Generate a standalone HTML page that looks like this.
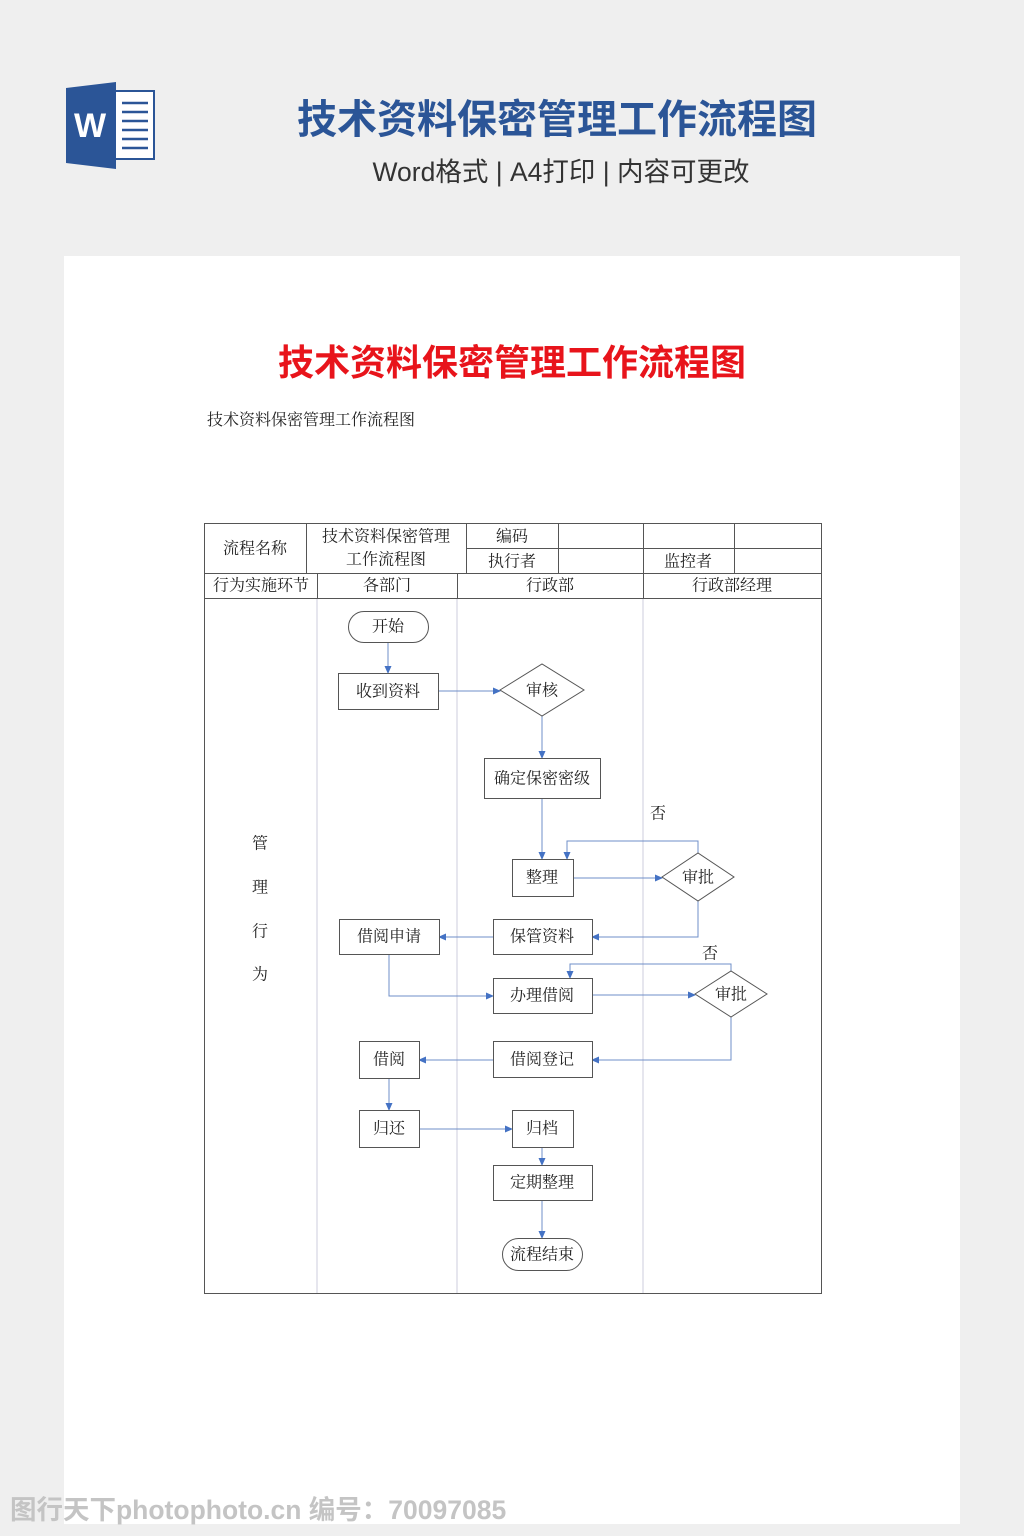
<!DOCTYPE html>
<html><head><meta charset="utf-8"><style>
html,body{margin:0;padding:0;background:#efefef;width:1024px;height:1536px;overflow:hidden}
svg{display:block}
.t{font-family:"Liberation Serif","Noto Serif CJK SC",serif;font-size:16px;fill:#222;text-anchor:middle;dominant-baseline:central}
</style></head><body>
<svg width="1024" height="1536" viewBox="0 0 1024 1536" xmlns="http://www.w3.org/2000/svg">
<defs><marker id="a" markerWidth="8" markerHeight="8" refX="7" refY="4" orient="auto" markerUnits="userSpaceOnUse"><path d="M0,0.5 L8,4 L0,7.5z" fill="#4472c4"/></marker></defs>
<rect width="1024" height="1536" fill="#efefef"/>
<rect x="108" y="91" width="46" height="68" fill="#fff" stroke="#2b5597" stroke-width="2"/>
<g stroke="#2b5597" stroke-width="2.5"><line x1="122" y1="103" x2="148" y2="103"/><line x1="122" y1="112" x2="148" y2="112"/><line x1="122" y1="121" x2="148" y2="121"/><line x1="122" y1="130" x2="148" y2="130"/><line x1="122" y1="139" x2="148" y2="139"/><line x1="122" y1="148" x2="148" y2="148"/></g>
<path d="M66,88 L116,82 L116,169 L66,163z" fill="#2b5597"/>
<text x="90" y="137" font-family="Liberation Sans,sans-serif" font-weight="bold" font-size="34" fill="#fff" text-anchor="middle">W</text>
<text x="557" y="133" font-family="Liberation Sans,'Noto Sans CJK SC',sans-serif" font-weight="bold" font-size="40" fill="#2b5597" text-anchor="middle">技术资料保密管理工作流程图</text>
<text x="561" y="181" font-family="Liberation Sans,'Noto Sans CJK SC',sans-serif" font-size="26.5" fill="#333" text-anchor="middle">Word格式 | A4打印 | 内容可更改</text>
<rect x="64" y="256" width="896" height="1268" fill="#fff"/>
<text x="512" y="375" font-family="Liberation Sans,'Noto Sans CJK SC',sans-serif" font-weight="bold" font-size="36" fill="#e8141b" text-anchor="middle">技术资料保密管理工作流程图</text>
<text x="207" y="425" font-family="Liberation Serif,'Noto Serif CJK SC',serif" font-size="16" fill="#222">技术资料保密管理工作流程图</text>
<g stroke="#ccd" stroke-width="1"><line x1="317" y1="598" x2="317" y2="1294"/><line x1="457" y1="598" x2="457" y2="1294"/><line x1="643" y1="598" x2="643" y2="1294"/></g>
<g stroke="#555" stroke-width="1" fill="none">
<rect x="204.5" y="523.5" width="617" height="770"/>
<line x1="466" y1="548.5" x2="822" y2="548.5"/>
<line x1="204" y1="573.5" x2="822" y2="573.5"/>
<line x1="204" y1="598.5" x2="822" y2="598.5"/>
<line x1="306.5" y1="523" x2="306.5" y2="573"/><line x1="466.5" y1="523" x2="466.5" y2="573"/><line x1="558.5" y1="523" x2="558.5" y2="573"/><line x1="643.5" y1="523" x2="643.5" y2="573"/><line x1="734.5" y1="523" x2="734.5" y2="573"/>
<line x1="317.5" y1="573" x2="317.5" y2="598"/><line x1="457.5" y1="573" x2="457.5" y2="598"/><line x1="643.5" y1="573" x2="643.5" y2="598"/>
</g>
<g transform="translate(0,1)">
<text class="t" x="255" y="548">流程名称</text>
<text class="t" x="386" y="536">技术资料保密管理</text>
<text class="t" x="386" y="559">工作流程图</text>
<text class="t" x="512" y="536">编码</text>
<text class="t" x="512" y="561">执行者</text>
<text class="t" x="688" y="561">监控者</text>
<text class="t" x="261" y="585">行为实施环节</text>
<text class="t" x="387" y="585">各部门</text>
<text class="t" x="550" y="585">行政部</text>
<text class="t" x="732" y="585">行政部经理</text>
<text class="t" x="260" y="843">管</text><text class="t" x="260" y="887">理</text><text class="t" x="260" y="931">行</text><text class="t" x="260" y="974">为</text>
</g>
<g stroke="#6f8fc8" stroke-width="1" fill="none" marker-end="url(#a)">
<path d="M388,642 V673"/>
<path d="M438,691 H500"/>
<path d="M542,716 V758"/>
<path d="M542,798 V859"/>
<path d="M573,878 H662"/>
<path d="M698,853 V841 H567 V859"/>
<path d="M698,901 V937 H592"/>
<path d="M493,937 H439"/>
<path d="M389,954 V996 H493"/>
<path d="M592,995 H695"/>
<path d="M731,971 V964 H570 V978"/>
<path d="M731,1017 V1060 H592"/>
<path d="M493,1060 H419"/>
<path d="M389,1078 V1110"/>
<path d="M419,1129 H512"/>
<path d="M542,1147 V1165"/>
<path d="M542,1200 V1238"/>
</g>
<g stroke="#555" stroke-width="1" fill="#fff">
<rect x="348.5" y="611.5" width="80" height="31" rx="15.5"/>
<rect x="338.5" y="673.5" width="100" height="36"/>
<path d="M500,690 L542,664 L584,690 L542,716z"/>
<rect x="484.5" y="758.5" width="116" height="40"/>
<rect x="512.5" y="859.5" width="61" height="37"/>
<path d="M662,877 L698,853 L734,877 L698,901z"/>
<rect x="339.5" y="919.5" width="100" height="35"/>
<rect x="493.5" y="919.5" width="99" height="35"/>
<rect x="493.5" y="978.5" width="99" height="35"/>
<path d="M695,994 L731,971 L767,994 L731,1017z"/>
<rect x="359.5" y="1041.5" width="60" height="37"/>
<rect x="493.5" y="1041.5" width="99" height="36"/>
<rect x="359.5" y="1110.5" width="60" height="37"/>
<rect x="512.5" y="1110.5" width="61" height="37"/>
<rect x="493.5" y="1165.5" width="99" height="35"/>
<rect x="502.5" y="1238.5" width="80" height="32" rx="16"/>
</g>
<g transform="translate(0,1)">
<text class="t" x="388" y="626">开始</text>
<text class="t" x="388" y="691">收到资料</text>
<text class="t" x="542" y="690">审核</text>
<text class="t" x="542" y="778">确定保密密级</text>
<text class="t" x="658" y="813">否</text>
<text class="t" x="542" y="877">整理</text>
<text class="t" x="698" y="877">审批</text>
<text class="t" x="389" y="936">借阅申请</text>
<text class="t" x="542" y="936">保管资料</text>
<text class="t" x="710" y="953">否</text>
<text class="t" x="542" y="995">办理借阅</text>
<text class="t" x="731" y="994">审批</text>
<text class="t" x="389" y="1059">借阅</text>
<text class="t" x="542" y="1059">借阅登记</text>
<text class="t" x="389" y="1128">归还</text>
<text class="t" x="542" y="1128">归档</text>
<text class="t" x="542" y="1182">定期整理</text>
<text class="t" x="542" y="1254">流程结束</text>
</g>
<text x="10" y="1519" font-family="Liberation Sans,'Noto Sans CJK SC',sans-serif" font-size="26.5" font-weight="bold" fill="#c4c4c4">图行天下photophoto.cn  编号：70097085</text>
</svg>
</body></html>
